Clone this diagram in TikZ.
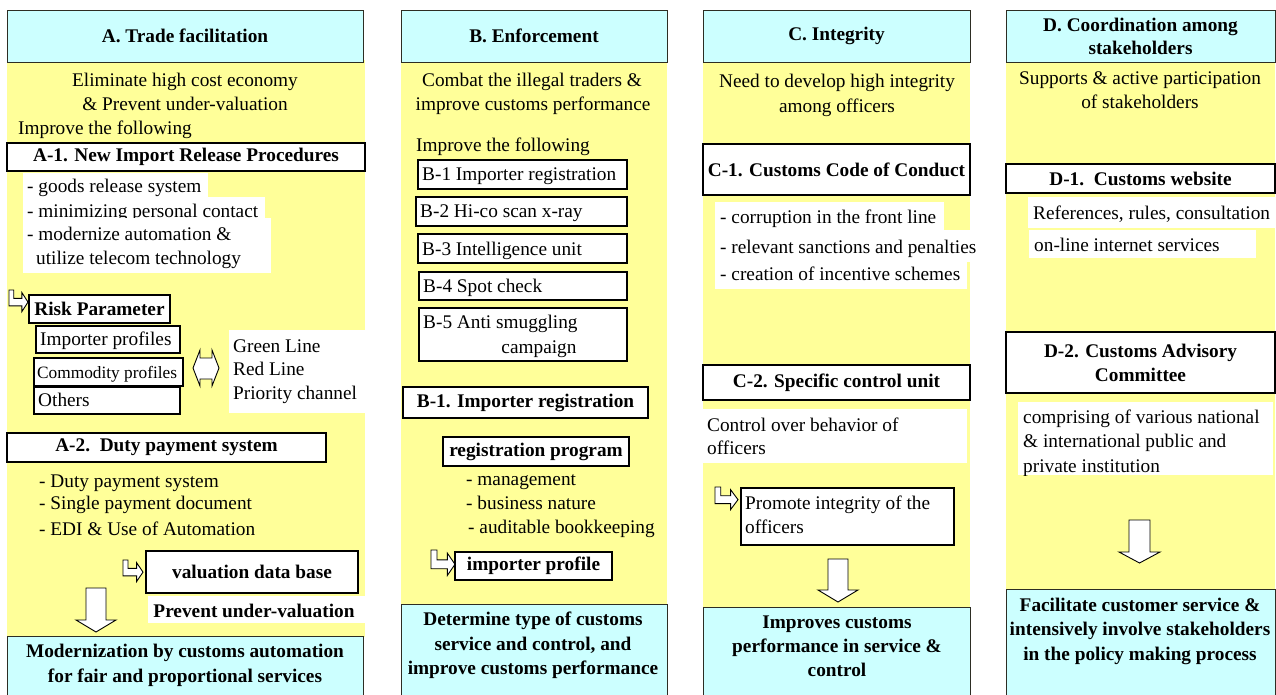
\documentclass[tikz,border=0pt]{standalone}
\usepackage{fontspec}
\setmainfont{Liberation Serif}
\definecolor{colyellow}{RGB}{255,255,153}
\definecolor{colcyan}{RGB}{204,255,255}
\definecolor{edge}{RGB}{45,45,35}

% box given by its corners (x1,y1)-(x2,y2), y measured downwards
\newcommand{\rbox}[7]{\node[#2, minimum width={#5-#3}, minimum height={#6-#4}] (#1) at ({(#3+#5)/2},{(#4+#6)/2}) {#7};}
% text lines placed by left edge / centre and the middle of the line
\newcommand{\ltext}[4]{\node[ltxt] (#1) at (#2,{#3+7}) {#4};}
\newcommand{\ctext}[4]{\node[ctxt] (#1) at (#2,{#3+7}) {#4};}
\newcommand{\btext}[4]{\node[ctxt,font=\fontsize{19.3}{24}\selectfont\bfseries] (#1) at (#2,{#3+7}) {#4};}
% outline down arrow: shaft x, head x, top, head base, tip
\newcommand{\downblock}[8]{%
  \draw[blk] (#1,#5) -- (#2,#5) -- (#2,#6) -- (#4,#6) -- ({(#3+#4)/2},#7) -- (#3,#6) -- (#1,#6) -- cycle;
  \coordinate (#8) at ({(#3+#4)/2},#7);}
% outline bent arrow inside the box at (x,y) of size w x h
\newcommand{\bentblock}[5]{%
  \begin{scope}[shift={(#1,#2)}, x=#3pt, y=-#4pt]
    \draw[blk] (0,0) -- (0.25,0) -- (0.25,0.38) -- (0.68,0.38) -- (0.68,0.12) -- (1,0.55)
      -- (0.68,0.98) -- (0.68,0.72) -- (0,0.72) -- cycle;
    \coordinate (#5) at (1,0.55);
  \end{scope}}

\tikzset{
  every node/.style={font=\fontsize{19.3}{24}\selectfont},
  col/.style={fill=colyellow, draw=none, inner sep=0},
  head/.style={fill=colcyan, draw=edge, line width=0.9pt, inner sep=0, align=center,
    font=\fontsize{19.3}{23}\selectfont\bfseries},
  goal/.style={fill=colcyan, draw=edge, line width=0.9pt, inner sep=0},
  thinbox/.style={fill=white, draw=black, line width=1.1pt, inner sep=0},
  thickbox/.style={fill=white, draw=black, line width=2.8pt, inner sep=0, align=center,
    font=\fontsize{19.3}{24}\selectfont\bfseries},
  wbg/.style={fill=white, draw=none, inner sep=0},
  ltxt/.style={anchor=base west, inner sep=0},
  ctxt/.style={anchor=base, inner sep=0},
  blk/.style={fill=white, draw=black, line width=0.9pt, line join=miter},
}

\begin{document}
\begin{tikzpicture}[x=1pt, y=-1pt]
\useasboundingbox (0,0) rectangle (1276,695);
\fill[white] (0,0) rectangle (1276,695);

% ---------------- columns ----------------
\rbox{colA}{col}{7}{60}{365}{637}{}
\rbox{colB}{col}{401}{60}{667}{605}{}
\rbox{colC}{col}{703}{60}{970}{608}{}
\rbox{colD}{col}{1006}{60}{1275}{590}{}

\rbox{headA}{head}{7}{10}{363}{62}{A. Trade facilitation}
\rbox{headB}{head}{401}{10}{667}{62}{B. Enforcement}
\rbox{headC}{head}{703}{10}{970}{62}{C. Integrity}
\rbox{headD}{head}{1006}{10}{1275}{62}{D. Coordination among\\stakeholders}

\rbox{goalA}{goal}{7}{636}{363}{700}{}
\rbox{goalB}{goal}{401}{604}{667}{700}{}
\rbox{goalC}{goal}{703}{607}{970}{700}{}
\rbox{goalD}{goal}{1006}{589}{1275}{700}{}

% ---------------- A. Trade facilitation ----------------
\ctext{aIntro1}{185}{80}{Eliminate high cost economy}
\ctext{aIntro2}{185}{104}{\& Prevent under-valuation}
\ltext{aImprove}{18}{128}{Improve the following}
\rbox{aOne}{thickbox}{7}{143}{365}{171}{A-1. New Import Release Procedures}

\rbox{aBg1}{wbg}{23}{173}{208}{197}{}
\ltext{aL1}{27}{186}{- goods release system}
\rbox{aBg2}{wbg}{23}{197}{265}{218}{}
\ltext{aL2}{27}{210}{- minimizing personal contact}
\rbox{aBg3}{wbg}{23}{218}{271}{273}{}
\ltext{aL3}{27}{233}{- modernize automation \&}
\ltext{aL4}{36}{257}{utilize telecom technology}

\bentblock{9}{290}{19}{22}{aRiskIn}
\rbox{aRisk}{thinbox}{29}{295}{170}{323}{\bfseries Risk Parameter}
\rbox{aImp}{thinbox}{36}{326}{180}{353}{}
\ltext{aImpT}{40}{338}{Importer profiles}
\rbox{aCom}{thinbox}{34}{358}{183}{386}{}
\node[ltxt, font=\fontsize{17.3}{20}\selectfont] (aComT) at (37,378) {Commodity profiles};
\rbox{aOth}{thinbox}{34}{387}{180}{414}{}
\ltext{aOthT}{38}{399}{Others}

\draw[blk] (193,368) -- (200,350) -- (200,358) -- (212,358) -- (212,350) -- (219,368)
  -- (212,386) -- (212,379) -- (200,379) -- (200,386) -- cycle;
\coordinate (aSwap) at (206,368);

\rbox{aLinesBg}{wbg}{229}{330}{365}{413}{}
\ltext{aGreen}{233}{345}{Green Line}
\ltext{aRed}{233}{368}{Red Line}
\ltext{aPrio}{233}{392}{Priority channel}

\rbox{aTwo}{thickbox}{7}{433}{326}{462}{A-2.\ \ Duty payment system}
\ltext{aP1}{39}{480}{- Duty payment system}
\ltext{aP2}{39}{502}{- Single payment document}
\ltext{aP3}{39}{528}{- EDI \& Use of Automation}

\bentblock{123}{560}{20}{22}{aValIn}
\rbox{aVal}{thinbox}{146}{551}{358}{593}{\bfseries valuation data base}
\rbox{aPrevBg}{wbg}{148}{596}{365}{623}{}
\btext{aPrev}{254}{610}{Prevent under-valuation}

\downblock{86}{106}{76}{116}{588}{620}{632}{aDown}

\btext{aGoal1}{185}{650}{Modernization by customs automation}
\btext{aGoal2}{185}{675}{for fair and proportional services}

% ---------------- B. Enforcement ----------------
\ctext{bIntro1}{532}{80}{Combat the illegal traders \&}
\ctext{bIntro2}{533}{104}{improve customs performance}
\ltext{bImprove}{416}{145}{Improve the following}

\rbox{bOne}{thinbox}{418}{160}{627}{189}{}
\ltext{bOneT}{422}{174}{B-1 Importer registration}
\rbox{bTwo}{thinbox}{416}{197}{627}{226}{}
\ltext{bTwoT}{420}{211}{B-2 Hi-co scan x-ray}
\rbox{bThree}{thinbox}{418}{234}{627}{263}{}
\ltext{bThreeT}{422}{248}{B-3 Intelligence unit}
\rbox{bFour}{thinbox}{419}{272}{627}{300}{}
\ltext{bFourT}{423}{285}{B-4 Spot check}
\rbox{bFive}{thinbox}{419}{308}{627}{361}{}
\ltext{bFiveT}{423}{321}{B-5 Anti smuggling}
\ctext{bFiveU}{539}{346}{campaign}

\rbox{bReg}{thickbox}{403}{387}{648}{418}{B-1. Importer registration}
\rbox{bProg}{thinbox}{443}{437}{629}{466}{\bfseries registration program}
\ltext{bM1}{466}{478}{- management}
\ltext{bM2}{466}{502}{- business nature}
\ltext{bM3}{468}{526}{- auditable bookkeeping}

\bentblock{431}{550}{24}{26}{bProfIn}
\rbox{bProf}{thinbox}{455}{552}{612}{580}{\bfseries importer profile}

\btext{bGoal1}{533}{618}{Determine type of customs}
\btext{bGoal2}{533}{643}{service and control, and}
\btext{bGoal3}{533}{667}{improve customs performance}

% ---------------- C. Integrity ----------------
\ctext{cIntro1}{837}{81}{Need to develop high integrity}
\ctext{cIntro2}{837}{106}{among officers}

\rbox{cOne}{thickbox}{703}{144}{970}{195}{C-1. Customs Code of Conduct}
\rbox{cBg1}{wbg}{715}{202}{944}{230}{}
\rbox{cBg2}{wbg}{715}{230}{974}{262}{}
\rbox{cBg3}{wbg}{715}{262}{967}{289}{}
\ltext{cL1}{720}{216}{- corruption in the front line}
\ltext{cL2}{720}{246}{- relevant sanctions and penalties}
\ltext{cL3}{720}{273}{- creation of incentive schemes}

\rbox{cTwo}{thickbox}{703}{365}{970}{400}{C-2. Specific control unit}
\rbox{cCtrlBg}{wbg}{703}{409}{967}{463}{}
\ltext{cCtrl1}{707}{424}{Control over behavior of}
\ltext{cCtrl2}{707}{447}{officers}

\bentblock{715}{487}{23}{23}{cPromIn}
\rbox{cProm}{thinbox}{741}{488}{954}{545}{}
\ltext{cProm1}{745}{502}{Promote integrity of the}
\ltext{cProm2}{745}{526}{officers}

\downblock{828}{848}{818}{858}{559}{590}{602}{cDown}

\btext{cGoal1}{837}{621}{Improves customs}
\btext{cGoal2}{837}{645}{performance in service \&}
\btext{cGoal3}{837}{669}{control}

% ---------------- D. Coordination among stakeholders ----------------
\ctext{dIntro1}{1140}{78}{Supports \& active participation}
\ctext{dIntro2}{1140}{102}{of stakeholders}

\rbox{dOne}{thickbox}{1006}{164}{1275}{193}{D-1.\ \ Customs website}
\rbox{dBg1}{wbg}{1028}{197}{1276}{228}{}
\ltext{dW1}{1033}{212}{References, rules, consultation}
\rbox{dBg2}{wbg}{1029}{230}{1256}{258}{}
\ltext{dW2}{1034}{244}{on-line internet services}

\rbox{dTwo}{thickbox}{1006}{332}{1275}{393}{D-2. Customs Advisory\\Committee}
\rbox{dBg3}{wbg}{1018}{402}{1273}{475}{}
\begin{scope}
  \clip (1018,402) rectangle (1273,475);
  \ltext{dC1}{1023}{416}{comprising of various national}
  \ltext{dC2}{1023}{440}{\& international public and}
  \ltext{dC3}{1023}{465}{private institution}
\end{scope}

\downblock{1129}{1150}{1119}{1160}{520}{552}{563}{dDown}

\btext{dGoal1}{1140}{604}{Facilitate customer service \&}
\btext{dGoal2}{1140}{628}{intensively involve stakeholders}
\btext{dGoal3}{1140}{653}{in the policy making process}
\end{tikzpicture}
\end{document}
